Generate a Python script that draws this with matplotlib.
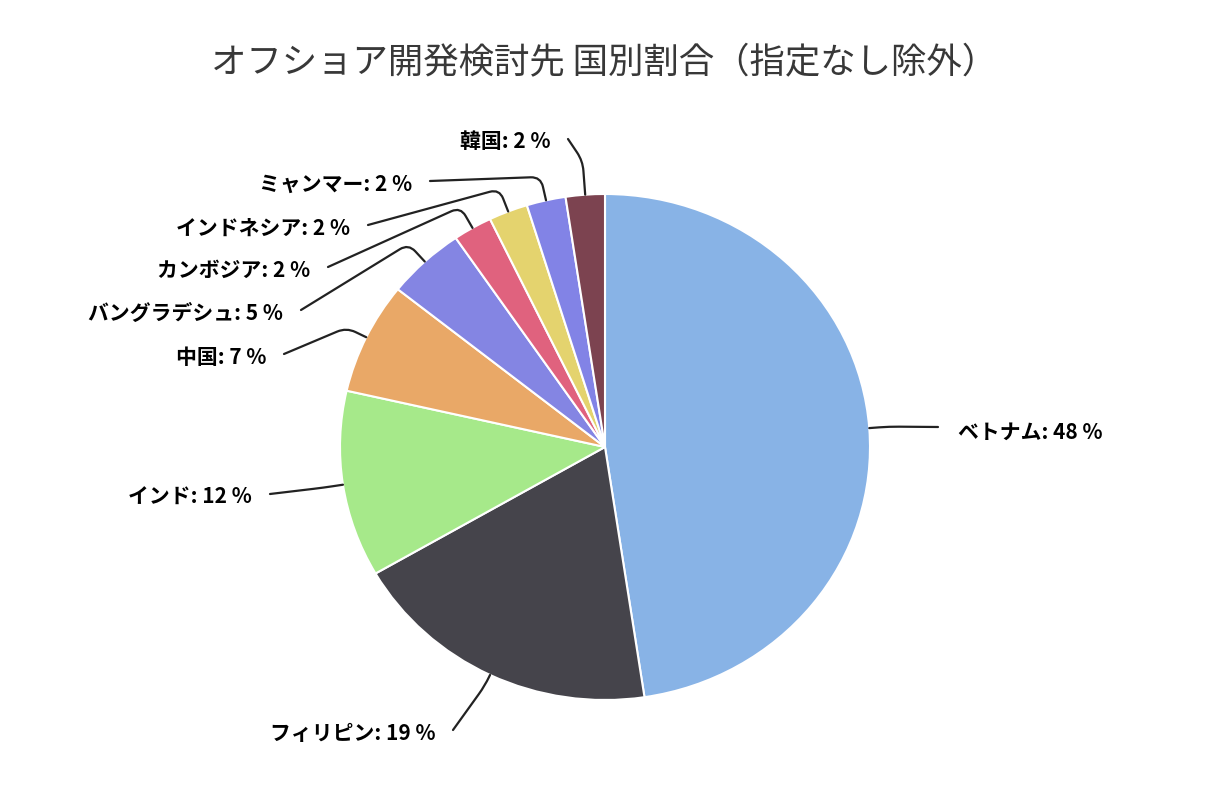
import numpy as np
import matplotlib
matplotlib.use('Agg')
import matplotlib.pyplot as plt
from matplotlib.path import Path
from matplotlib.patches import PathPatch

plt.rcParams['font.family'] = ['Noto Sans CJK JP', 'DejaVu Sans']

title = "オフショア開発検討先 国別割合（指定なし除外）"
countries = ["ベトナム", "フィリピン", "インド", "中国", "バングラデシュ",
             "カンボジア", "インドネシア", "ミャンマー", "韓国"]
counts = [20, 8, 5, 3, 2, 1, 1, 1, 1]
colors = ["#88b3e6", "#45444b", "#a6e98a", "#e9a867", "#8485e3",
          "#e0627e", "#e4d36e", "#8283e6", "#7c4350"]

W, H = 1213, 806
CX, CY, RX, RY = 605, 447, 265, 253

fig = plt.figure(figsize=(W / 100, H / 100), dpi=100)
ax = fig.add_axes([0, 0, 1, 1])
wedges, _ = ax.pie(counts, colors=colors, startangle=90, counterclock=False,
                   radius=1, wedgeprops=dict(edgecolor='white', linewidth=1.5))
ax.set_aspect('auto')
ax.set_xlim(-CX / RX, (W - CX) / RX)
ax.set_ylim(-(H - CY) / RY, CY / RY)
ax.axis('off')


def to_data(px, py):
    return ((px - CX) / RX, (CY - py) / RY)


# label layout in pixels: (text x, text y, ha, elbow distance)
layout = [
    (958, 432, 'left', 20),
    (435, 733, 'right', 12),
    (252, 497, 'right', 20),
    (266, 357, 'right', 22),
    (283, 313, 'right', 24),
    (310, 270, 'right', 24),
    (350, 228, 'right', 24),
    (412, 184, 'right', 24),
    (550, 142, 'right', 34),
]

total = sum(counts)
for w, name, c, (tx, ty, ha, el) in zip(wedges, countries, counts, layout):
    pct = round(100 * c / total)
    ax.text(*to_data(tx, ty), f"{name}: {pct} %", ha=ha, va='center',
            fontsize=15, fontweight='bold', color='#000000')
    mid = np.deg2rad((w.theta1 + w.theta2) / 2)
    ex, ey = CX + RX * np.cos(mid), CY - RY * np.sin(mid)
    ox, oy = np.cos(mid), -np.sin(mid)
    elbow = np.array([ex + ox * el, ey + oy * el])
    edge = np.array([ex, ey])
    if ha == 'right':
        start = np.array([tx + 18, ty - 3])
    else:
        start = np.array([tx - 20, ty - 5])
    r = 10.0
    d1 = start - elbow
    d1 = d1 / np.linalg.norm(d1)
    d2 = edge - elbow
    d2 = d2 / np.linalg.norm(d2)
    A = elbow + d1 * r
    B = elbow + d2 * r
    pts = [start, A, elbow, B, edge]
    codes = [Path.MOVETO, Path.LINETO, Path.CURVE3, Path.CURVE3, Path.LINETO]
    verts = [to_data(*p) for p in pts]
    ax.add_patch(PathPatch(Path(verts, codes), fill=False, edgecolor='#222222',
                           linewidth=1.6, capstyle='round', joinstyle='round'))

fig.text(604 / W, 1 - 63 / H, title, ha='center', va='center',
         fontsize=25.5, color='#383838')

fig.savefig('out.png', dpi=100, facecolor='white')
